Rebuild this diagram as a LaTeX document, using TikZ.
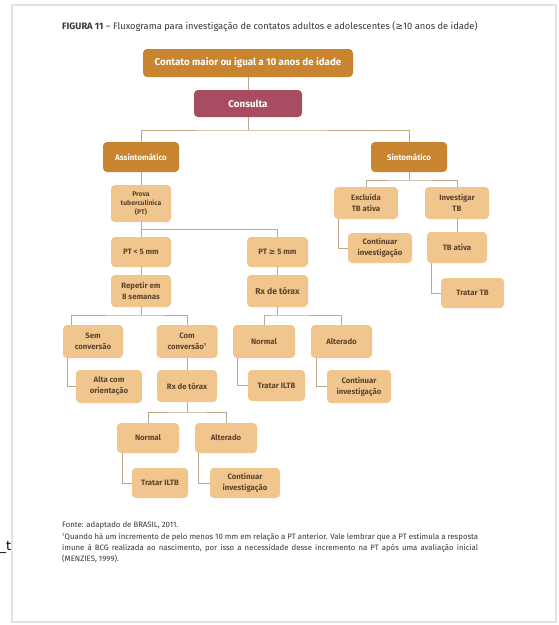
\documentclass[tikz,border=0pt]{standalone}
\usepackage{fontspec}
\setmainfont{Fira Sans}
\newfontfamily\symfont{DejaVu Sans}
\newfontfamily\artfont{DejaVu Sans}
\definecolor{cdark}{RGB}{200,132,46}
\definecolor{cmaroon}{RGB}{168,76,98}
\definecolor{cpeach}{RGB}{240,197,142}
\definecolor{ctext}{RGB}{92,70,44}
\definecolor{cline}{RGB}{188,168,140}
\definecolor{cframe}{RGB}{226,226,226}
\definecolor{ctitle}{RGB}{55,55,55}
\tikzset{
  darkbox/.style={fill=cdark, rounded corners=4pt, text=white, align=center, inner sep=1pt,
    font=\bfseries\fontsize{9.8}{11}\selectfont},
  smalldark/.style={darkbox, font=\bfseries\fontsize{8}{9}\selectfont},
  lbox/.style={fill=cpeach, rounded corners=4pt, text=ctext, align=center, inner sep=1pt,
    font=\bfseries\fontsize{7.8}{11}\selectfont},
  conn/.style={draw=cline, line width=0.8pt},
  caption/.style={anchor=west, inner sep=0pt, text=ctitle}
}
\begin{document}
\begin{tikzpicture}[x=1pt,y=-1pt]
\useasboundingbox (0,0) rectangle (559,625);
\fill[white] (0,0) rectangle (559,625);
\draw[cframe, line width=1.2pt] (12,5) rectangle (556,622);
\node[anchor=west, inner sep=0pt, font=\artfont\fontsize{13}{15}\selectfont] (art) at (-0.5,547) {\_t};

\node[caption, font=\fontsize{9.3}{11}\selectfont] (title) at (62,27)
  {\textbf{FIGURA 11} – Fluxograma para investigação de contatos adultos e adolescentes ({\symfont ≥}10 anos de idade)};

% top levels
\node[darkbox, minimum width=210pt, minimum height=28pt] (top) at (248,63) {Contato maior ou igual a 10 anos de idade};
\node[darkbox, fill=cmaroon, minimum width=108pt, minimum height=27pt] (cons) at (248,103.5) {Consulta};
\node[smalldark, minimum width=76pt, minimum height=30pt] (assint) at (141,157) {Assintomático};
\node[smalldark, minimum width=76pt, minimum height=30pt] (sint) at (409,157) {Sintomático};

% assintomatico branch
\node[lbox, font=\bfseries\fontsize{6.8}{9.2}\selectfont, minimum width=60pt, minimum height=37pt] (prova) at (141,203.5) {Prova\\tuberculínica\\(PT)};
\node[lbox, minimum width=60pt, minimum height=30pt] (ptless) at (141,252) {PT < 5 mm};
\node[lbox, minimum width=61pt, minimum height=30pt] (ptmore) at (277.5,252) {PT {\symfont ≥} 5 mm};
\node[lbox, minimum width=60pt, minimum height=32pt] (rep) at (141,291) {Repetir em\\8 semanas};
\node[lbox, font=\bfseries\fontsize{8.6}{10}\selectfont, minimum width=61pt, minimum height=32pt] (rxa) at (277.5,291) {Rx de tórax};

\node[lbox, minimum width=60pt, minimum height=33pt] (sem) at (93,341.5) {Sem\\conversão};
\node[lbox, minimum width=61pt, minimum height=33pt] (com) at (187,341.5) {Com\\conversão\textsuperscript{\fontsize{4.5}{4.5}\selectfont 1}};
\node[lbox, minimum width=66pt, minimum height=33pt] (alta) at (109,386.5) {Alta com\\orientação};
\node[lbox, minimum width=60pt, minimum height=32pt] (rxb) at (187,386) {Rx de tórax};
\node[lbox, minimum width=62pt, minimum height=30pt] (norb) at (148,438) {Normal};
\node[lbox, minimum width=62pt, minimum height=30pt] (altb) at (226,438) {Alterado};
\node[lbox, minimum width=56pt, minimum height=30pt] (trb) at (160,483) {Tratar ILTB};
\node[lbox, minimum width=70pt, minimum height=30pt] (contb) at (245,483) {Continuar\\investigação};

\node[lbox, minimum width=62pt, minimum height=33pt] (nora) at (264,341.5) {Normal};
\node[lbox, minimum width=61pt, minimum height=33pt] (alta2) at (341.5,341.5) {Alterado};
\node[lbox, minimum width=57pt, minimum height=31pt] (tra) at (276.5,385.5) {Tratar ILTB};
\node[lbox, minimum width=64pt, minimum height=33pt] (conta) at (359,386.5) {Continuar\\investigação};

% sintomatico branch
\node[lbox, minimum width=64pt, minimum height=32pt] (excl) at (366,203) {Excluída\\TB ativa};
\node[lbox, minimum width=64pt, minimum height=32pt] (inv) at (457,203) {Investigar\\TB};
\node[lbox, minimum width=64pt, minimum height=30pt] (contc) at (380,248) {Continuar\\investigação};
\node[lbox, minimum width=60pt, minimum height=31pt] (tba) at (457,247.5) {TB ativa};
\node[lbox, minimum width=63pt, minimum height=30pt] (trtb) at (472.5,293) {Tratar TB};

% connectors
\coordinate (j1) at (248,130);
\coordinate (j2) at (141,229);
\coordinate (j3) at (141,315);
\coordinate (j4) at (277.5,315);
\coordinate (j5) at (187,412);
\coordinate (j6) at (409,180);
\coordinate (semtop) at (71,325);

\draw[conn] (top) -- (cons);
\draw[conn] (cons) -- (j1);
\draw[conn] (assint.north) |- (j1) -| (sint.north);
\draw[conn] (assint) -- (prova);
\draw[conn] (prova) -- (j2);
\draw[conn] (ptless.north) |- (j2) -| (ptmore.north);
\draw[conn] (ptless) -- (rep);
\draw[conn] (ptmore) -- (rxa);
\draw[conn] (rep) -- (j3);
\draw[conn] (semtop) |- (j3) -| (com.north);
\draw[conn] (com) -- (rxb);
\draw[conn] ([xshift=5pt]sem.south west) |- (alta.west);
\draw[conn] (rxb) -- (j5);
\draw[conn] (norb.north) |- (j5) -| (altb.north);
\draw[conn] ([xshift=6pt]norb.south west) |- (trb.west);
\draw[conn] ([xshift=4pt]altb.south west) |- (contb.west);
\draw[conn] (rxa) -- (j4);
\draw[conn] (nora.north) |- (j4) -| (alta2.north);
\draw[conn] ([xshift=5pt]nora.south west) |- (tra.west);
\draw[conn] ([xshift=6pt]alta2.south west) |- (conta.west);
\draw[conn] (sint) -- (j6);
\draw[conn] (excl.north) |- (j6) -| (inv.north);
\draw[conn] ([xshift=5pt]excl.south west) |- (contc.west);
\draw[conn] (inv) -- (tba);
\draw[conn] ([xshift=5pt]tba.south west) |- (trtb.west);

% footer
\node[caption, font=\fontsize{7.8}{9}\selectfont] (fonte) at (62,525) {Fonte: adaptado de BRASIL, 2011.};
\node[caption, font=\fontsize{7.8}{9}\selectfont] (fn1) at (62,537.5)
  {\makebox[416pt][s]{\textsuperscript{\fontsize{4.5}{4.5}\selectfont 1}Quando há um incremento de pelo menos 10 mm em relação a PT anterior. Vale lembrar que a PT estimula a resposta}};
\node[caption, font=\fontsize{7.8}{9}\selectfont] (fn2) at (62,548)
  {\makebox[416pt][s]{imune à BCG realizada ao nascimento, por isso a necessidade desse incremento na PT após uma avaliação inicial}};
\node[caption, font=\fontsize{7.8}{9}\selectfont] (fn3) at (62,558.5) {(MENZIES, 1999).};
\end{tikzpicture}
\end{document}
